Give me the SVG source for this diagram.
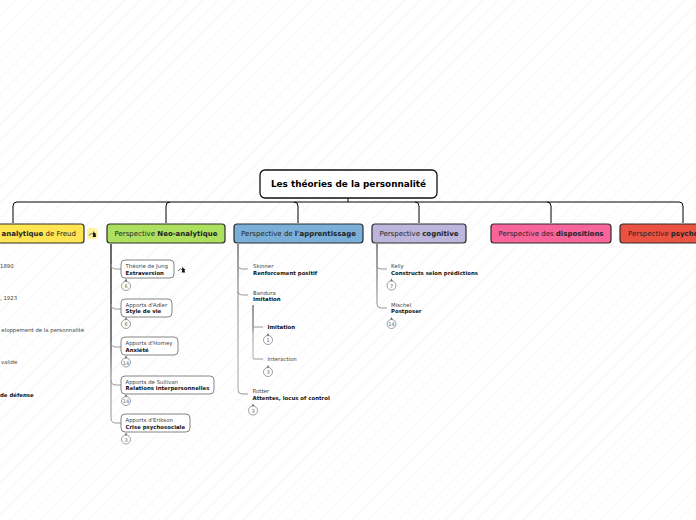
<svg xmlns="http://www.w3.org/2000/svg" width="696" height="520" viewBox="0 0 696 520">
<defs>
<pattern id="bg" width="11" height="11" patternUnits="userSpaceOnUse" patternTransform="rotate(45)"><rect width="11" height="11" fill="#ffffff"/><rect width="1" height="11" fill="#f6f6f6"/></pattern>
<linearGradient id="fadeNeo" gradientUnits="userSpaceOnUse" x1="0" y1="244" x2="0" y2="423"><stop offset="0" stop-color="#333"/><stop offset=".55" stop-color="#555"/><stop offset=".75" stop-color="#aaa"/><stop offset="1" stop-color="#bbb"/></linearGradient>
<linearGradient id="fadeApp" gradientUnits="userSpaceOnUse" x1="0" y1="244" x2="0" y2="394"><stop offset="0" stop-color="#444"/><stop offset=".35" stop-color="#999"/><stop offset="1" stop-color="#bbb"/></linearGradient>
<linearGradient id="fadeCog" gradientUnits="userSpaceOnUse" x1="0" y1="244" x2="0" y2="308"><stop offset="0" stop-color="#444"/><stop offset="1" stop-color="#aaa"/></linearGradient>
<linearGradient id="fadeBan" gradientUnits="userSpaceOnUse" x1="0" y1="305" x2="0" y2="359"><stop offset="0" stop-color="#555"/><stop offset=".45" stop-color="#777"/><stop offset=".55" stop-color="#aaa"/><stop offset="1" stop-color="#bbb"/></linearGradient>
<symbol id="ico" viewBox="0 0 8 8" width="8" height="8"><path d="M0 5L2.800 2.600" fill="none" stroke="#222" stroke-width=".7"/><path d="M4.600 .5L5.600 2.500L7.400 3.600L6.400 4.300L7.200 6.500H3.600L4.300 4.200L3 3.400L4.300 2.600Z" fill="#111"/></symbol>
</defs>
<style>
text{font-family:"DejaVu Sans",sans-serif;fill:#222}
.t{font-size:7px}
.s{font-size:5.400px;fill:#444}
.b{font-size:5.400px;font-weight:bold;fill:#111}
.n{font-size:5px;fill:#666;text-anchor:middle}
.p{stroke:#2c2c2c;stroke-width:1.200}
.sub{fill:#fff;stroke:#777;stroke-width:.9}
.c{fill:#fff;stroke:#777;stroke-width:.7}
.k{fill:#666}
.l{fill:none;stroke:#000;stroke-width:1}
.g{fill:none;stroke:#999;stroke-width:1}
</style>
<rect width="696" height="520" fill="url(#bg)"/>
<g id="connectors">
<path class="l" d="M348 198V202M13 223V206Q13 202 17 202H679Q683 202 683 206V223M166 223V206Q166 202 170 202M298 223V206Q298 202 294 202M419 223V206Q419 202 415 202M551 223V206Q551 202 547 202"/>
<path fill="none" stroke="url(#fadeNeo)" stroke-width="1.500" d="M111 244V418"/>
<path class="g" d="M111 418Q111 423 116 423H121M111 264Q111 269 116 269H121M111 304Q111 309 116 309H121M111 342Q111 347 116 347H121M111 380Q111 385 116 385H121"/>
<path fill="none" stroke="url(#fadeApp)" stroke-width="1.200" d="M238 244V390"/>
<path class="g" d="M238 390Q238 394 242 394H248M238 265Q238 269 242 269H248M238 291Q238 295 242 295H248"/>
<path fill="none" stroke="url(#fadeCog)" stroke-width="1.200" d="M377 244V304"/>
<path class="g" d="M377 304Q377 308 381 308H387M377 265Q377 269 381 269H387"/>
<path fill="none" stroke="url(#fadeBan)" stroke-width="1.200" d="M253 305V358"/>
<path class="g" d="M253 358Q253 359 254 359H263M253 327H263"/>
</g>
<g id="root"><rect x="260" y="170" width="177" height="28" rx="5" fill="#fff" stroke="#111" stroke-width="1.300"/><text x="348.500" y="187" text-anchor="middle" style="font-size:8.900px;font-weight:bold;fill:#000">Les théories de la personnalité</text></g>
<g id="n-freud"><rect x="-40" y="224" width="124" height="19" rx="3" fill="#ffe552" class="p"/><text x="76" y="236" class="t" text-anchor="end"><tspan font-weight="bold">analytique</tspan> de Freud</text></g>
<g id="icon-freud"><rect x="87" y="228" width="11" height="11" rx="2" fill="#fff2a0"/><use href="#ico" x="89" y="230.500"/></g>
<g id="n-neo"><rect x="107" y="224" width="118" height="19" rx="3" fill="#aee05f" class="p"/><text x="166" y="236" class="t" text-anchor="middle">Perspective <tspan font-weight="bold">Neo-analytique</tspan></text></g>
<g id="n-app"><rect x="234" y="224" width="129" height="19" rx="3" fill="#79afd8" class="p"/><text x="298.500" y="236" class="t" text-anchor="middle">Perspective de <tspan font-weight="bold">l'apprentissage</tspan></text></g>
<g id="n-cog"><rect x="372" y="224" width="94" height="19" rx="3" fill="#bcb5dc" class="p"/><text x="419" y="236" class="t" text-anchor="middle">Perspective <tspan font-weight="bold">cognitive</tspan></text></g>
<g id="n-dis"><rect x="491" y="224" width="120" height="19" rx="3" fill="#f9649b" class="p"/><text x="551" y="236" class="t" text-anchor="middle">Perspective des <tspan font-weight="bold">dispositions</tspan></text></g>
<g id="n-psy"><rect x="620" y="224" width="120" height="19" rx="3" fill="#ec5242" class="p"/><text x="628" y="236" class="t">Perspective <tspan font-weight="bold">psycho</tspan></text></g>
<g id="left-labels"><text x="0" y="268" class="s">1890</text><text x="0" y="300" class="s">, 1923</text><text x="84" y="332" class="s" text-anchor="end">eloppement de la personnalité</text><text x="1" y="364" class="s">valide</text><text x="0" y="397" class="b">de défense</text></g>
<g id="jung"><rect x="121" y="260" width="53" height="18" rx="4" class="sub"/><text x="125.500" y="268" class="s">Théorie de Jung</text><text x="125.500" y="275" class="b">Extraversion</text><use href="#ico" x="178" y="266"/><path class="k" d="M126 278.500l1.500 3h-3z"/><circle cx="126" cy="286" r="4.500" class="c"/><text x="126" y="288" class="n">6</text></g>
<g id="adler"><rect x="121" y="299" width="51" height="18" rx="4" class="sub"/><text x="125.500" y="307" class="s">Apports d'Adler</text><text x="125.500" y="313" class="b">Style de vie</text><path class="k" d="M126 317l1.500 3h-3z"/><circle cx="126" cy="324" r="4.500" class="c"/><text x="126" y="326" class="n">6</text></g>
<g id="horney"><rect x="121" y="337" width="57" height="18" rx="4" class="sub"/><text x="125.500" y="345" class="s">Apports d'Horney</text><text x="125.500" y="352" class="b">Anxiété</text><path class="k" d="M126 355.500l1.500 3h-3z"/><circle cx="126" cy="362.500" r="4.500" class="c"/><text x="126" y="364.500" class="n">14</text></g>
<g id="sullivan"><rect x="121" y="376" width="93" height="18" rx="4" class="sub"/><text x="125.500" y="384" class="s">Apports de Sullivan</text><text x="125.500" y="390" class="b">Relations interpersonnelles</text><path class="k" d="M126 394l1.500 3h-3z"/><circle cx="126" cy="401" r="4.500" class="c"/><text x="126" y="403" class="n">14</text></g>
<g id="erikson"><rect x="121" y="414" width="69" height="18" rx="4" class="sub"/><text x="125.500" y="422" class="s">Apports d'Erikson</text><text x="125.500" y="429" class="b">Crise psychosociale</text><path class="k" d="M126 432.500l1.500 3h-3z"/><circle cx="126" cy="439.500" r="4.500" class="c"/><text x="126" y="441.500" class="n">3</text></g>
<g id="skinner"><text x="253" y="268" class="s">Skinner</text><text x="253" y="275" class="b">Renforcement positif</text></g>
<g id="bandura"><text x="253" y="295" class="s">Bandura</text><text x="253" y="301" class="b">Imitation</text></g>
<g id="imitation"><text x="267.500" y="329" class="b">Imitation</text><path class="k" d="M268 333l1.500 3h-3z"/><circle cx="268" cy="340" r="4.500" class="c"/><text x="268" y="342" class="n">1</text></g>
<g id="interaction"><text x="267.500" y="361" class="s">Interaction</text><path class="k" d="M268 365l1.500 3h-3z"/><circle cx="268" cy="372" r="4.500" class="c"/><text x="268" y="374" class="n">3</text></g>
<g id="rotter"><text x="252.500" y="393" class="s">Rotter</text><text x="252.500" y="400" class="b">Attentes, locus of control</text><path class="k" d="M253 403.500l1.500 3h-3z"/><circle cx="253" cy="410.500" r="4.500" class="c"/><text x="253" y="412.500" class="n">3</text></g>
<g id="kelly"><text x="391" y="268" class="s">Kelly</text><text x="391" y="275" class="b">Constructs selon prédictions</text><path class="k" d="M391.500 278.500l1.500 3h-3z"/><circle cx="391.500" cy="285.500" r="4.500" class="c"/><text x="391.500" y="287.500" class="n">7</text></g>
<g id="mischel"><text x="391" y="307" class="s">Mischel</text><text x="391" y="313" class="b">Postposer</text><path class="k" d="M391.500 317l1.500 3h-3z"/><circle cx="391.500" cy="324" r="4.500" class="c"/><text x="391.500" y="326" class="n">14</text></g>
</svg>
